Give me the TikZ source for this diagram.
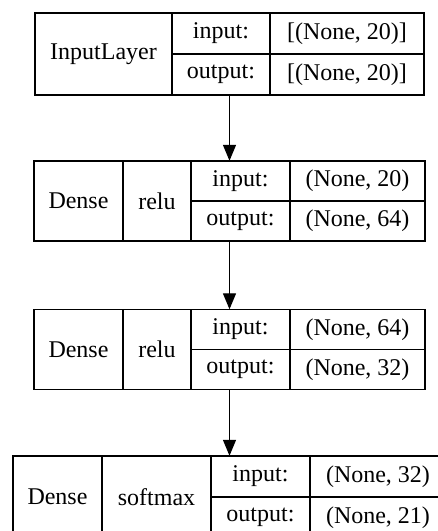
\documentclass[tikz,border=0pt]{standalone}
\usepackage{fontspec}
\setmainfont{Liberation Serif}
\usetikzlibrary{arrows.meta}
\begin{document}
\begin{tikzpicture}[x=1pt, y=-1pt,
        cell/.style={draw, line width=1.3pt, inner sep=0pt, font=\fontsize{24}{28}\selectfont},
        frame/.style={inner sep=0pt},
        wire/.style={line width=1.3pt, -{Triangle[length=16pt, width=13pt]}}]
    \useasboundingbox (0,0) rectangle (438,531);
    \clip (0,0) rectangle (438,531);
    % input layer
    \node[frame, minimum width=389pt, minimum height=82pt] (l1) at (229.5, 54) {};
    \node[cell, minimum width=137pt, minimum height=82pt] (l1name) at (103.5, 54) {InputLayer};
    \node[cell, minimum width=98pt, minimum height=41pt] (l1in) at (221, 33.5) {input:};
    \node[cell, minimum width=98pt, minimum height=41pt] (l1out) at (221, 74.5) {output:};
    \node[cell, minimum width=154pt, minimum height=41pt] (l1inval) at (347, 33.5) {[(None, 20)]};
    \node[cell, minimum width=154pt, minimum height=41pt] (l1outval) at (347, 74.5) {[(None, 20)]};
    % dense, relu
    \node[frame, minimum width=391pt, minimum height=80pt] (l2) at (229.5, 201) {};
    \node[cell, minimum width=89pt, minimum height=80pt] (l2name) at (78.5, 201) {Dense};
    \node[cell, minimum width=68pt, minimum height=80pt] (l2act) at (157, 201) {relu};
    \node[cell, minimum width=99pt, minimum height=40pt] (l2in) at (240.5, 181) {input:};
    \node[cell, minimum width=99pt, minimum height=40pt] (l2out) at (240.5, 221) {output:};
    \node[cell, minimum width=135pt, minimum height=40pt] (l2inval) at (357.5, 181) {(None, 20)};
    \node[cell, minimum width=135pt, minimum height=40pt] (l2outval) at (357.5, 221) {(None, 64)};
    % dense, relu
    \node[frame, minimum width=391pt, minimum height=80pt] (l3) at (229.5, 349.5) {};
    \node[cell, minimum width=89pt, minimum height=80pt] (l3name) at (78.5, 349.5) {Dense};
    \node[cell, minimum width=68pt, minimum height=80pt] (l3act) at (157, 349.5) {relu};
    \node[cell, minimum width=99pt, minimum height=40pt] (l3in) at (240.5, 329.5) {input:};
    \node[cell, minimum width=99pt, minimum height=40pt] (l3out) at (240.5, 369.5) {output:};
    \node[cell, minimum width=135pt, minimum height=40pt] (l3inval) at (357.5, 329.5) {(None, 64)};
    \node[cell, minimum width=135pt, minimum height=40pt] (l3outval) at (357.5, 369.5) {(None, 32)};
    % dense, softmax
    \node[frame, minimum width=433pt, minimum height=82pt] (l4) at (229.5, 497) {};
    \node[cell, minimum width=89pt, minimum height=82pt] (l4name) at (57.5, 497) {Dense};
    \node[cell, minimum width=109pt, minimum height=82pt] (l4act) at (156.5, 497) {softmax};
    \node[cell, minimum width=99pt, minimum height=41pt] (l4in) at (260.5, 476.5) {input:};
    \node[cell, minimum width=99pt, minimum height=41pt] (l4out) at (260.5, 517.5) {output:};
    \node[cell, minimum width=136pt, minimum height=41pt] (l4inval) at (378, 476.5) {(None, 32)};
    \node[cell, minimum width=136pt, minimum height=41pt] (l4outval) at (378, 517.5) {(None, 21)};
    % connections
    \draw[wire] (l1.south) -- (l2.north);
    \draw[wire] (l2.south) -- (l3.north);
    \draw[wire] (l3.south) -- (l4.north);
\end{tikzpicture}
\end{document}
